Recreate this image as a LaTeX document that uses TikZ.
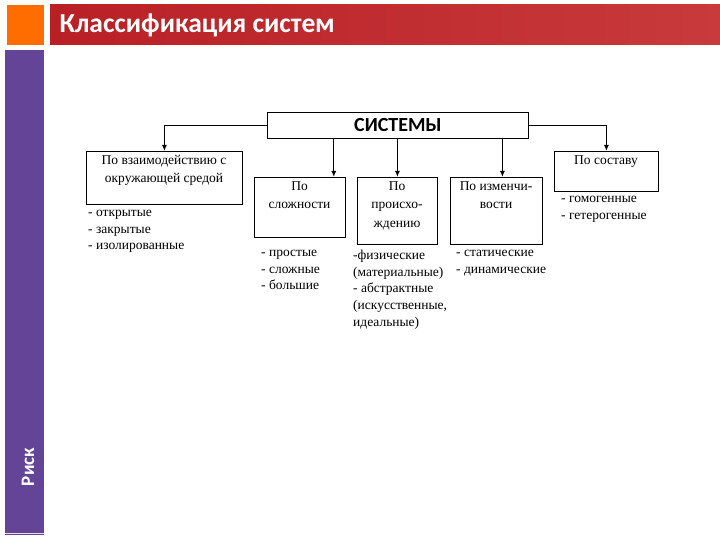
\documentclass[tikz,border=0pt]{standalone}
\usepackage{fontspec}
\setmainfont{Liberation Serif}
\newfontfamily\titlefont{Carlito}
\usetikzlibrary{arrows.meta}
\definecolor{sidepurple}{RGB}{100,68,150}
\definecolor{titleL}{RGB}{185,32,38}
\definecolor{titleR}{RGB}{200,58,60}
\begin{document}
\begin{tikzpicture}[x=1pt,y=-1pt,
  box/.style={draw,line width=0.8pt,inner sep=0pt},
  lbl/.style={font=\fontsize{13.5}{18.5}\selectfont,align=center,inner sep=0pt},
  lst/.style={font=\fontsize{13.5}{16.7}\selectfont,align=left,anchor=north west,inner sep=0pt},
  conn/.style={line width=1.3pt,-{Latex[length=6pt,width=5pt]}}]
\useasboundingbox (0,0) rectangle (720,540);
\fill[white] (0,0) rectangle (720,540);
\fill[orange!85!red] (7,5) rectangle (44,45);
\fill[sidepurple] (5,50) rectangle (44,535);
\draw[white!85!violet,line width=0.8pt] (5,533) -- (44,533);
\shade[left color=titleL,right color=titleR] (50,5) rectangle (720,45);
\node[anchor=west,text=white,font=\titlefont\bfseries\fontsize{27.5}{30}\selectfont] (title) at (56,25) {Классификация систем};
\node[rotate=90,text=white,font=\titlefont\bfseries\fontsize{19}{21}\selectfont] (risk) at (28,467) {Риск};
\node[box,minimum width=261,minimum height=26,anchor=north west,font=\titlefont\bfseries\fontsize{20}{22}\selectfont] (sys) at (267,112) {СИСТЕМЫ};
\node[box,minimum width=156,minimum height=53,anchor=north west] (b1) at (86,151) {};
\node[lbl,anchor=north] at (164,155) {По взаимодействию с\\окружающей средой};
\node[box,minimum width=91,minimum height=60,anchor=north west] (b2) at (254,177) {};
\node[lbl,anchor=north] at (299.5,181) {По\\сложности};
\node[box,minimum width=80,minimum height=67,anchor=north west] (b3) at (357,177) {};
\node[lbl,anchor=north] at (397,181) {По\\происхо-\\ждению};
\node[box,minimum width=92,minimum height=67,anchor=north west] (b4) at (450,177) {};
\node[lbl,anchor=north] at (496,181) {По изменчи-\\вости};
\node[box,minimum width=104,minimum height=40,anchor=north west] (b5) at (554,151) {};
\node[lbl,anchor=north] at (606,155) {По составу};
\draw[conn] (sys.west) -| (b1.north);
\draw[conn] (sys.east) -| (b5.north);
\draw[conn] (sys.south -| b2.north east) ++(-12,0) coordinate (c2) -- (c2 |- b2.north);
\draw[conn] (sys.south -| b3.north) -- (b3.north);
\draw[conn] (sys.south -| b4.north) ++(6,0) coordinate (c4) -- (c4 |- b4.north);
\node[lst] (l1) at (88,210) {- открытые\\- закрытые\\- изолированные};
\node[lst] (l2) at (261,250) {- простые\\- сложные\\- большие};
\node[lst] (l3) at (353,250) {-физические\\(материальные)\\- абстрактные\\(искусственные,\\идеальные)};
\node[lst] (l4) at (456,250) {- статические\\- динамические};
\node[lst] (l5) at (561,196) {- гомогенные\\- гетерогенные};
\end{tikzpicture}
\end{document}
